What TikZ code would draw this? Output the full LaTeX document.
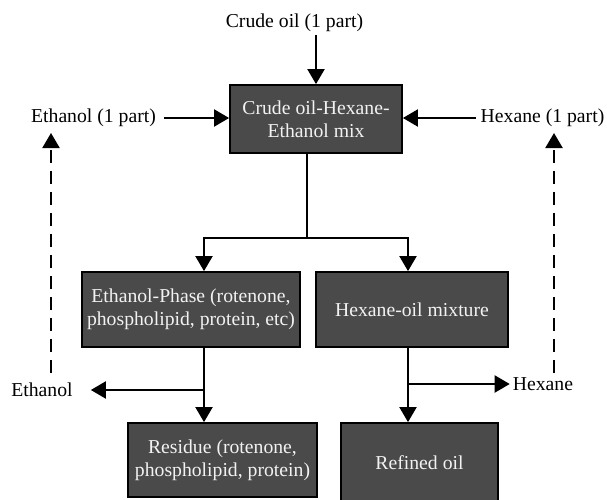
\documentclass[tikz,border=0pt]{standalone}
\usepackage{fontspec}
\setmainfont{Liberation Serif}
\usetikzlibrary{arrows.meta}
\definecolor{boxfill}{RGB}{74,74,74}
\definecolor{boxtext}{RGB}{242,242,242}
\begin{document}
\begin{tikzpicture}[x=1pt,y=-1pt,
  font=\fontsize{19.7}{23.3}\selectfont,
  lbl/.style={inner sep=0pt},
  proc/.style={draw=black, line width=1.8pt, fill=boxfill, text=boxtext, align=center, inner sep=0pt},
  conn/.style={line width=2pt, draw=black},
  arr/.style={conn, -{Triangle[length=15pt,width=17pt]}},
  recyc/.style={arr, line width=2.2pt, dash pattern=on 13pt off 8pt}]
\useasboundingbox (0,0) rectangle (607,500);
% labels
\node[lbl] (crude) at (294.5,23) {Crude oil (1 part)};
\node[lbl] (eth1) at (93.5,118) {Ethanol (1 part)};
\node[lbl] (hex1) at (542.5,118) {Hexane (1 part)};
\node[lbl] (eth2) at (42,390) {Ethanol};
\node[lbl] (hex2) at (543,384) {Hexane};
% boxes
\node[proc, minimum width=172pt, minimum height=68pt] (mix) at (316,119) {Crude oil-Hexane-\\Ethanol mix};
\node[proc, minimum width=218pt, minimum height=75pt] (eph) at (191,309.5) {Ethanol-Phase (rotenone,\\phospholipid, protein, etc)};
\node[proc, minimum width=192pt, minimum height=75pt] (hom) at (412,309.5) {Hexane-oil mixture};
\node[proc, minimum width=189pt, minimum height=74pt] (res) at (222.5,460) {Residue (rotenone,\\phospholipid, protein)};
\node[proc, minimum width=157pt, minimum height=80pt] (ref) at (419.5,463) {Refined oil};
% coordinates
\coordinate (cin) at (316,35);
\coordinate (j) at (306.5,237.5);
\coordinate (jl) at (204,237.5);
\coordinate (jr) at (408,237.5);
\coordinate (be) at (204,390);
\coordinate (bh) at (408,384);
\coordinate (dl0) at (51,373);
\coordinate (dl1) at (51,133);
\coordinate (dr0) at (554,373);
\coordinate (dr1) at (554,133);
% connectors
\draw[arr] (cin) -- (mix.north);
\draw[arr, shorten <=8pt] (eth1.east) -- (eth1.east -| mix.west);
\draw[arr, shorten <=5pt] (hex1.west) -- (hex1.west -| mix.east);
\draw[conn] (mix.south -| j) -- (j);
\draw[arr] (j) -- (jl) -- (jl |- eph.north);
\draw[arr] (j) -- (jr) -- (jr |- hom.north);
\draw[arr] (eph.south -| jl) -- (jl |- res.north);
\draw[arr, shorten >=18pt] (be) -- (eth2.east);
\draw[arr] (hom.south -| jr) -- (jr |- ref.north);
\draw[arr, shorten >=3pt] (bh) -- (hex2.west);
\draw[recyc] (dl0) -- (dl1);
\draw[recyc] (dr0) -- (dr1);
\end{tikzpicture}
\end{document}
